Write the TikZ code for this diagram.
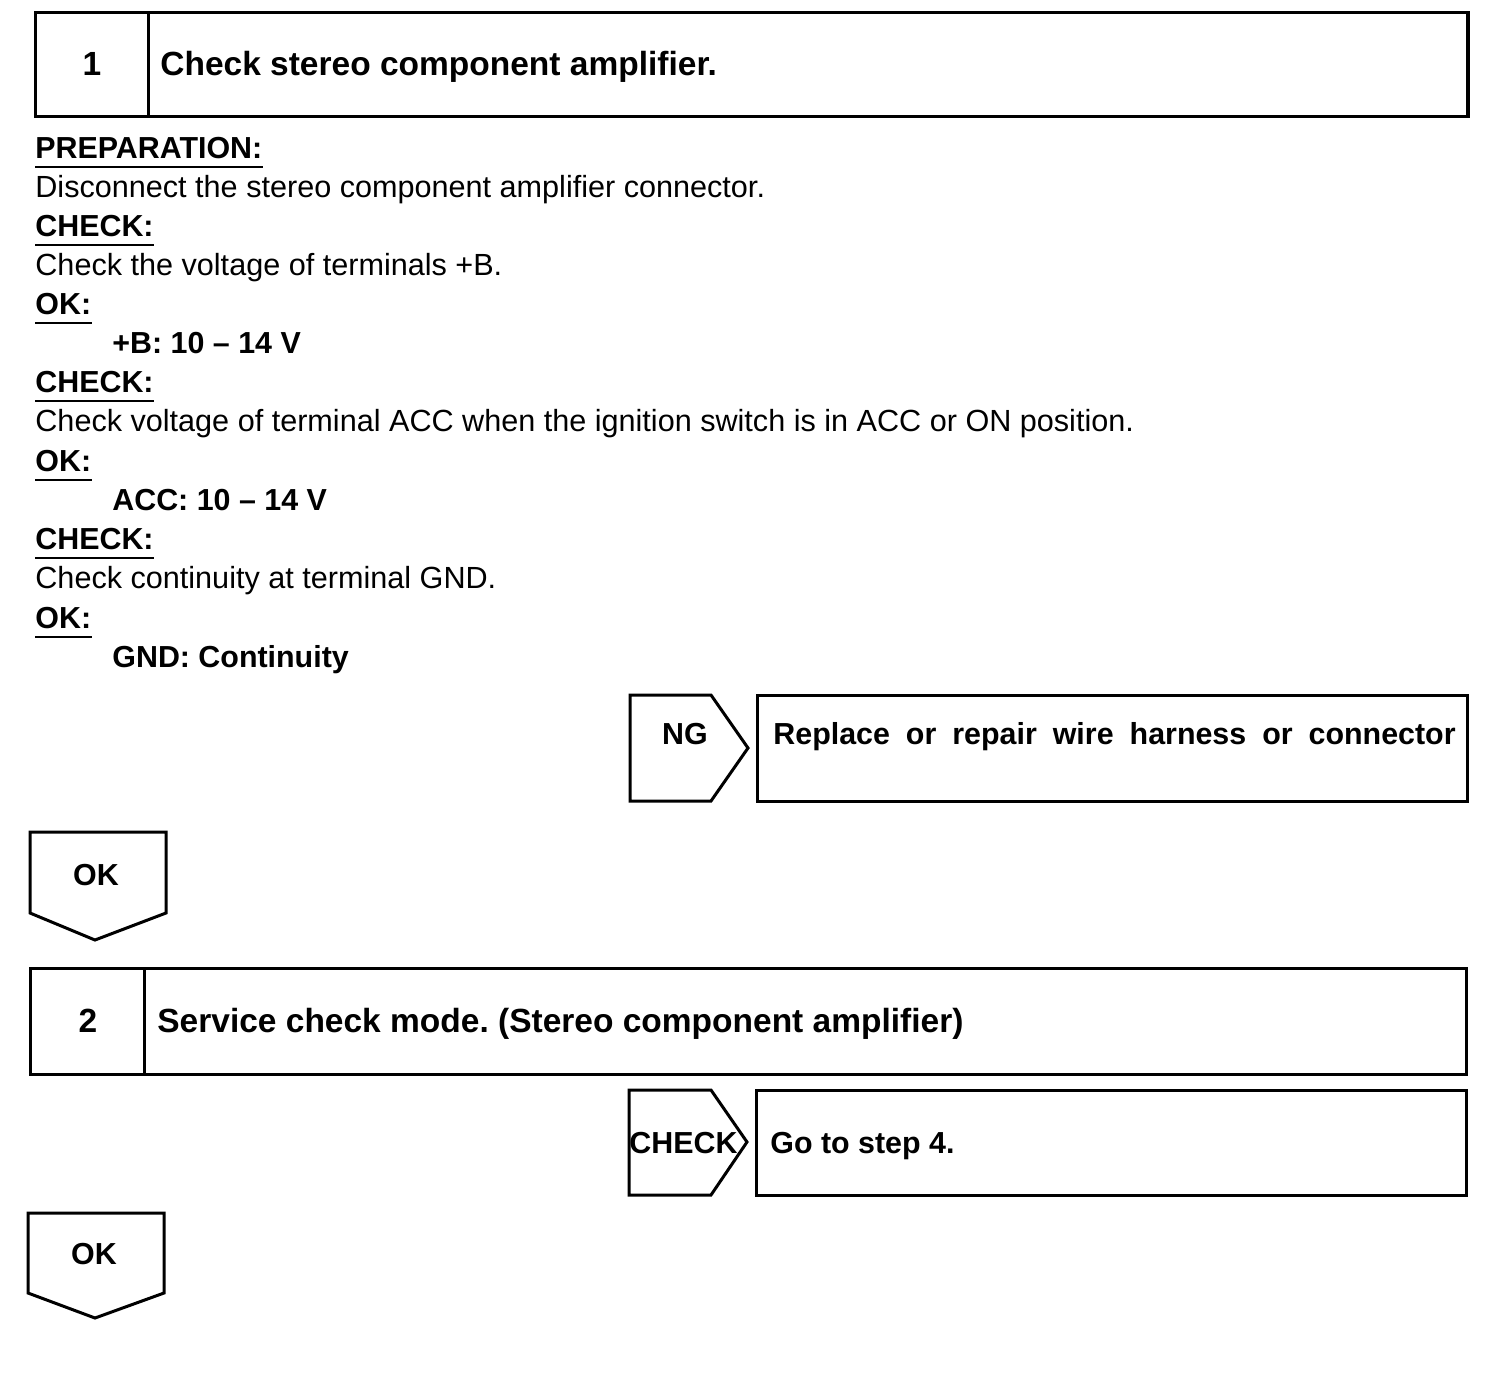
\documentclass[tikz,border=0pt]{standalone}
\usepackage{fontspec}
\setmainfont{Liberation Sans}
\begin{document}
\frenchspacing
\begin{tikzpicture}[x=0.5pt,y=-0.5pt,
  box/.style={line width=1.5pt, line join=miter},
  txt/.style={inner sep=0pt, anchor=base west, font=\fontsize{15.3}{17}\selectfont},
  btxt/.style={inner sep=0pt, anchor=base west, font=\fontsize{15.2}{17}\selectfont\bfseries},
  ttl/.style={inner sep=0pt, anchor=base west, font=\fontsize{16.75}{19}\selectfont\bfseries},
  uline/.style={line width=1pt}]
\useasboundingbox (0,0) rectangle (1504,1372);

% ---- Step 1 box
\draw[box] (35,12) rectangle (1468,116);
\draw[box] (148,12) -- (148,116);
\draw[line width=2.2pt] (1468,12) -- (1468,116);
\node[ttl, anchor=base] (num1) at (92,75) {1};
\node[ttl] (title1) at (160,75) {Check stereo component amplifier.};

% ---- text block
\node[btxt] (prep) at (35,158) {PREPARATION:};
\node[txt] (l1) at (35,197) {Disconnect the stereo component amplifier connector.};
\node[btxt] (chk1) at (35,236) {CHECK:};
\node[txt] (l2) at (35,275) {Check the voltage of terminals +B.};
\node[btxt] (ok1) at (35,314) {OK:};
\node[btxt] (v1) at (112,353) {+B: 10 -- 14 V};
\node[btxt] (chk2) at (35,392) {CHECK:};
\node[txt] (l3) at (35,431) {Check voltage of terminal ACC when the ignition switch is in ACC or ON position.};
\node[btxt] (ok2) at (35,471) {OK:};
\node[btxt] (v2) at (112,510) {ACC: 10 -- 14 V};
\node[btxt] (chk3) at (35,549) {CHECK:};
\node[txt] (l4) at (35,588) {Check continuity at terminal GND.};
\node[btxt] (ok3) at (35,628) {OK:};
\node[btxt] (v3) at (112,667) {GND: Continuity};

\foreach \n in {prep,chk1,ok1,chk2,ok2,chk3,ok3}{
  \draw[uline] ([yshift=-4.5pt]\n.base west) -- ([yshift=-4.5pt]\n.base east);
}

% ---- NG branch
\draw[box] (630,695) -- (711,695) -- (748,748) -- (711,801) -- (630,801) -- cycle;
\node[btxt, anchor=base] (ng) at (685,744) {NG};
\draw[box] (757,695) rectangle (1467,801);
\node[btxt] (ngt) at (773,744) {Replace\hspace{8pt}or\hspace{8pt}repair\hspace{8pt}wire\hspace{8pt}harness\hspace{8pt}or\hspace{8pt}connector};

% ---- OK arrow 1
\draw[box] (30,832) -- (166,832) -- (166,913) -- (95,940) -- (30,913) -- cycle;
\node[btxt, anchor=base] (okA) at (96,885) {OK};

% ---- Step 2 box
\draw[box] (30,968) rectangle (1466,1074);
\draw[box] (144,968) -- (144,1074);
\node[ttl, anchor=base] (num2) at (88,1032) {2};
\node[ttl] (title2) at (157,1032) {Service check mode. (Stereo component amplifier)};

% ---- CHECK branch
\draw[box] (629,1090) -- (711,1090) -- (747,1142) -- (711,1195) -- (629,1195) -- cycle;
\node[btxt, anchor=base west] (ck) at (629,1153) {CHECK};
\draw[box] (756,1090) rectangle (1466,1195);
\node[btxt] (ckt) at (770,1153) {Go to step 4.};

% ---- OK arrow 2
\draw[box] (28,1213) -- (164,1213) -- (164,1293) -- (95,1318) -- (28,1293) -- cycle;
\node[btxt, anchor=base] (okB) at (94,1264) {OK};
\end{tikzpicture}
\end{document}
